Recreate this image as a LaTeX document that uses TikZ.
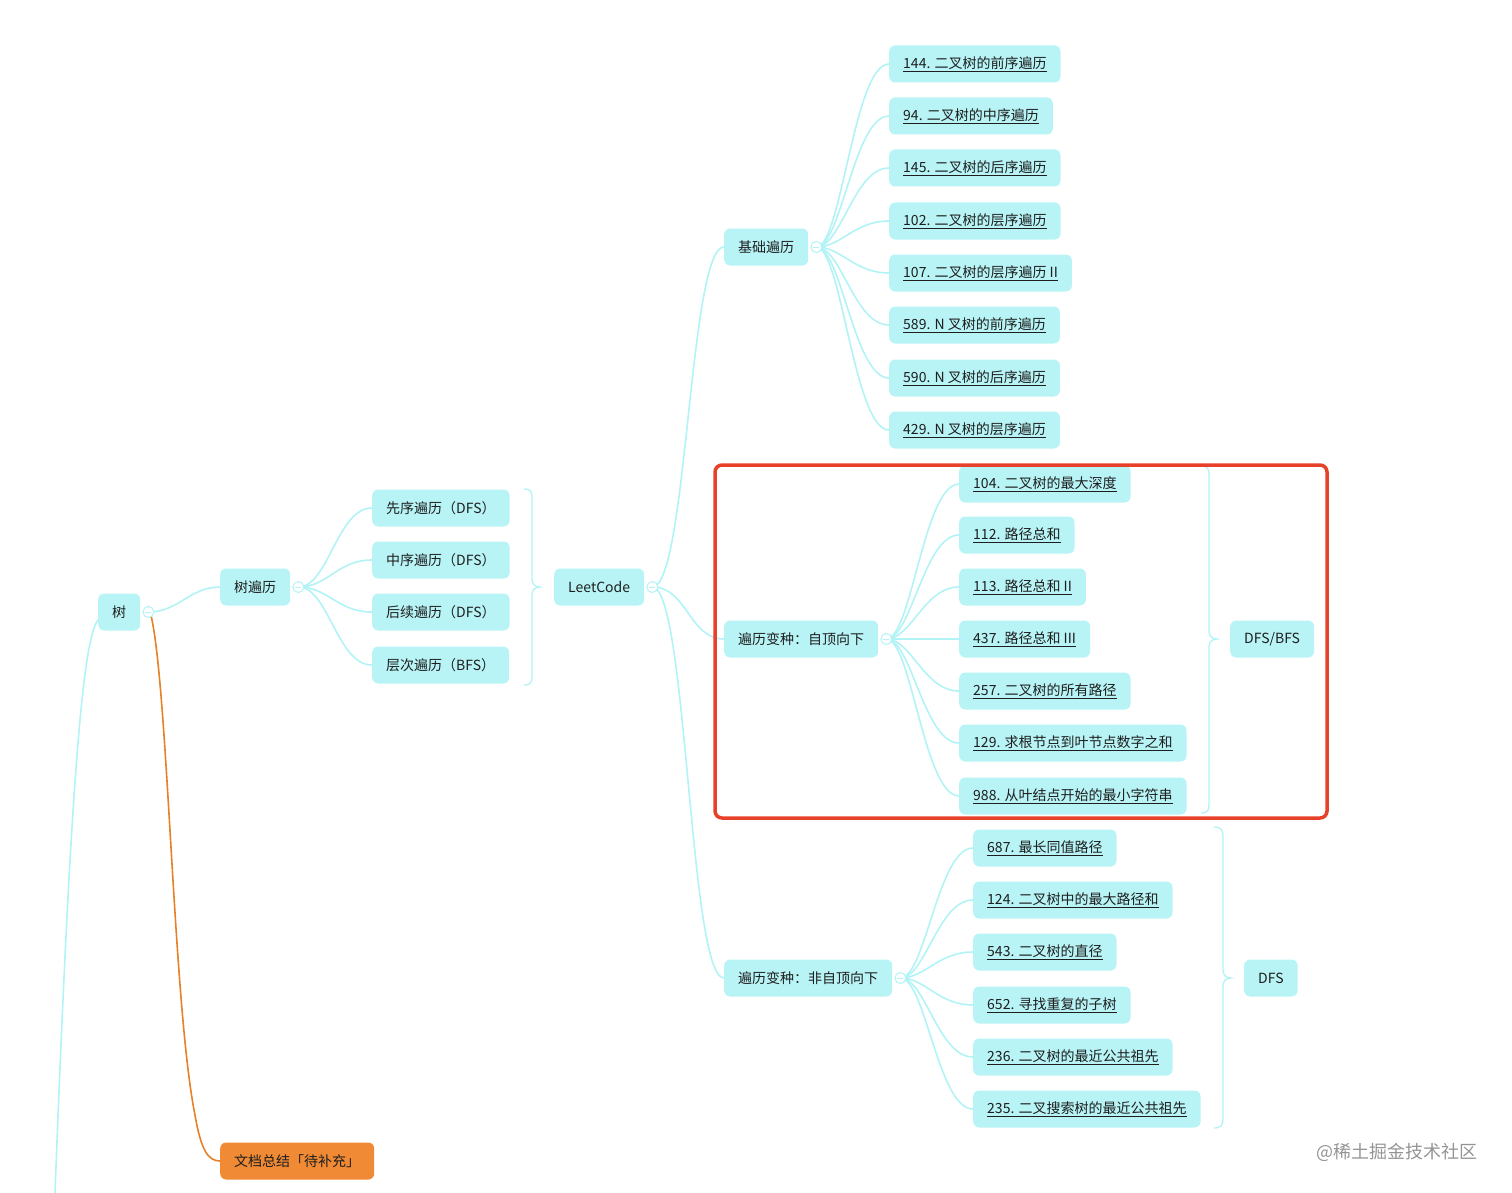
\documentclass[tikz,border=0pt]{standalone}
\usepackage{fontspec}
\setmainfont{Noto Sans CJK SC}
\definecolor{nodefill}{RGB}{184,244,246}
\definecolor{linecol}{RGB}{178,243,246}
\definecolor{orfill}{RGB}{240,138,52}
\definecolor{orline}{RGB}{232,128,40}
\definecolor{redbox}{RGB}{232,65,42}
\definecolor{txt}{RGB}{30,30,30}
\newcommand\fsz{\fontsize{14}{16}\selectfont}
\newcommand\lk[1]{\underline{#1}}
\tikzset{
  box/.style={fill=nodefill, rounded corners=6pt, inner xsep=14pt, inner ysep=0pt,
    minimum height=37pt, text=txt, font=\fsz, anchor=west},
  orbox/.style={box, fill=orfill},
  link/.style={draw=linecol, line width=1.6pt},
  bracel/.style={draw=linecol, line width=1.3pt},
  marker/.style={circle, draw=linecol, fill=white, line width=1pt, minimum size=11pt, inner sep=0pt},
}
\begin{document}
\begin{tikzpicture}[x=1pt,y=-1pt]
\useasboundingbox (0,0) rectangle (1512,1193);

% main nodes
\node[box] (root) at (98,612) {树};
\node[box] (trav) at (220,587) {树遍历};
\node[box] (pre) at (372,508) {先序遍历（DFS）};
\node[box] (in) at (372,560) {中序遍历（DFS）};
\node[box] (post) at (372,612) {后续遍历（DFS）};
\node[box] (lvl) at (372,665) {层次遍历（BFS）};
\node[box] (lc) at (554,587) {LeetCode};
\node[box] (basic) at (724,247) {基础遍历};
\node[box] (top) at (724,639) {遍历变种：自顶向下};
\node[box] (ntop) at (724,978) {遍历变种：非自顶向下};
\node[box] (dfsbfs) at (1230,639) {DFS/BFS};
\node[box] (dfs) at (1244,978) {DFS};
\node[orbox] (sum) at (220,1161) {文档总结「待补充」};

% leaves 1
\node[box] (a1) at (889,64) {\lk{144. 二叉树的前序遍历}};
\node[box] (a2) at (889,116) {\lk{94. 二叉树的中序遍历}};
\node[box] (a3) at (889,168) {\lk{145. 二叉树的后序遍历}};
\node[box] (a4) at (889,221) {\lk{102. 二叉树的层序遍历}};
\node[box] (a5) at (889,273) {\lk{107. 二叉树的层序遍历 II}};
\node[box] (a6) at (889,325) {\lk{589. N 叉树的前序遍历}};
\node[box] (a7) at (889,378) {\lk{590. N 叉树的后序遍历}};
\node[box] (a8) at (889,430) {\lk{429. N 叉树的层序遍历}};
% leaves 2
\node[box] (b1) at (959,484) {\lk{104. 二叉树的最大深度}};
\node[box] (b2) at (959,535) {\lk{112. 路径总和}};
\node[box] (b3) at (959,587) {\lk{113. 路径总和 II}};
\node[box] (b4) at (959,639) {\lk{437. 路径总和 III}};
\node[box] (b5) at (959,691) {\lk{257. 二叉树的所有路径}};
\node[box] (b6) at (959,743) {\lk{129. 求根节点到叶节点数字之和}};
\node[box] (b7) at (959,796) {\lk{988. 从叶结点开始的最小字符串}};
% leaves 3
\node[box] (c1) at (973,848) {\lk{687. 最长同值路径}};
\node[box] (c2) at (973,900) {\lk{124. 二叉树中的最大路径和}};
\node[box] (c3) at (973,952) {\lk{543. 二叉树的直径}};
\node[box] (c4) at (973,1005) {\lk{652. 寻找重复的子树}};
\node[box] (c5) at (973,1057) {\lk{236. 二叉树的最近公共祖先}};
\node[box] (c6) at (973,1109) {\lk{235. 二叉搜索树的最近公共祖先}};

% markers (positions)
\coordinate (m0) at ([xshift=8pt]root.east);
\coordinate (m1) at ([xshift=8pt]trav.east);
\coordinate (m2) at ([xshift=8pt]lc.east);
\coordinate (m3) at ([xshift=8pt]basic.east);
\coordinate (m4) at ([xshift=8pt]top.east);
\coordinate (m5) at ([xshift=8pt]ntop.east);

% connectors
\coordinate (rootdown) at (55,1193);
\draw[link] ([yshift=-8pt]root.west) .. controls (82,640) and (70,800) .. (rootdown);
\draw[draw=orline, line width=1.6pt] ([yshift=6pt]m0) .. controls (168,660) and (172,1000) .. (195,1115) .. controls (201,1150) and (208,1161) .. (sum.west);
\draw[link] (m0) .. controls +(30,0) and +(-30,0) .. (trav.west);
\foreach \n in {pre,in,post,lvl}
  \draw[link] (m1) .. controls +(30,0) and +(-35,0) .. (\n.west);
\foreach \n in {basic,top,ntop}
  \draw[link] (m2) .. controls +(35,0) and +(-35,0) .. (\n.west);
\foreach \n in {a1,a2,a3,a4,a5,a6,a7,a8}
  \draw[link] (m3) .. controls +(25,0) and +(-35,0) .. (\n.west);
\foreach \n in {b1,b2,b3,b4,b5,b6,b7}
  \draw[link] (m4) .. controls +(25,0) and +(-35,0) .. (\n.west);
\foreach \n in {c1,c2,c3,c4,c5,c6}
  \draw[link] (m5) .. controls +(25,0) and +(-35,0) .. (\n.west);

% marker circles
\foreach \m in {m0,m1,m2,m3,m4,m5}{
  \node[marker] at (\m) {};
  \draw[linecol, line width=0.8pt] ([xshift=-3pt]\m) -- ([xshift=3pt]\m);
}

% braces
\draw[bracel] (524,489) .. controls (531,489) and (532,492) .. (532,498) -- (532,579)
  .. controls (532,584) and (535,587) .. (540,587) .. controls (535,587) and (532,590) .. (532,595)
  -- (532,676) .. controls (532,682) and (531,685) .. (524,685);
\draw[bracel] (1201,466) .. controls (1208,466) and (1209,469) .. (1209,475) -- (1209,631)
  .. controls (1209,636) and (1212,639) .. (1217,639) .. controls (1212,639) and (1209,642) .. (1209,647)
  -- (1209,804) .. controls (1209,810) and (1208,813) .. (1201,813);
\draw[bracel] (1214,827) .. controls (1221,827) and (1223,830) .. (1223,836) -- (1223,970)
  .. controls (1223,975) and (1226,978) .. (1231,978) .. controls (1226,978) and (1223,981) .. (1223,986)
  -- (1223,1119) .. controls (1223,1125) and (1221,1128) .. (1214,1128);

% red highlight box
\draw[redbox, line width=3.5pt, rounded corners=7pt] (715,465) rectangle (1327,818);

% watermark
\node[anchor=east, text=black!42, font=\fontsize{18}{20}\selectfont] (wm) at (1481,1152) {@稀土掘金技术社区};
\end{tikzpicture}
\end{document}
